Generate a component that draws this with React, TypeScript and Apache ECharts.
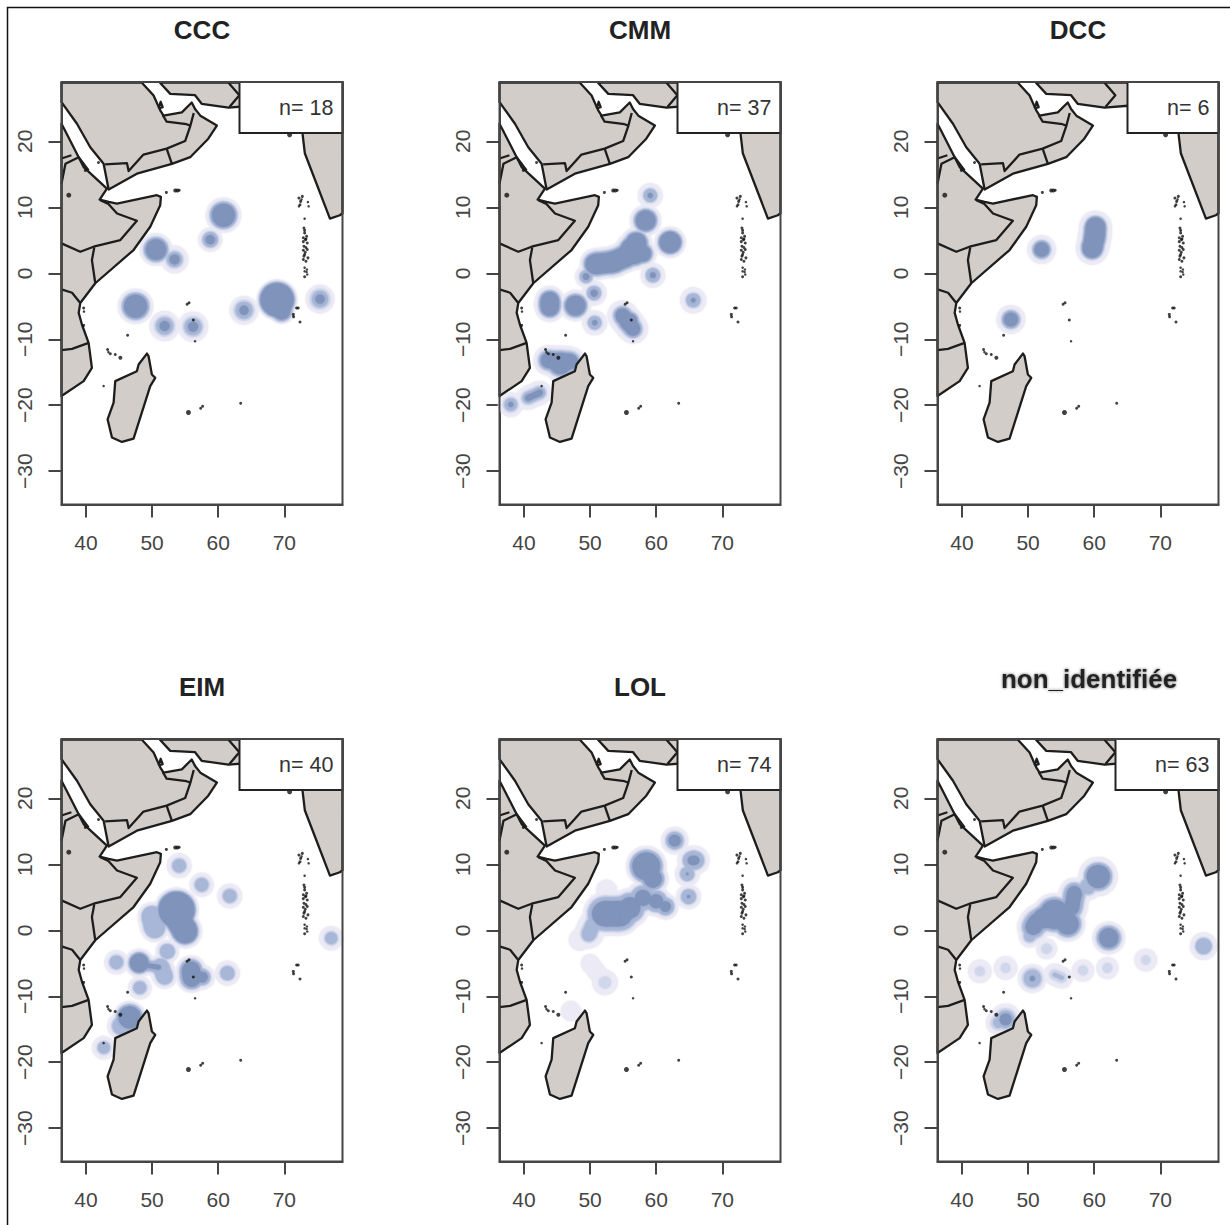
import React, { useEffect, useRef } from "react";
import * as echarts from "echarts";

const panelTitles = ["CCC", "CMM", "DCC", "EIM", "LOL", "non_identifiée"];
const panelCounts = ["n= 18", "n= 37", "n= 6", "n= 40", "n= 74", "n= 63"];
const lonTicks = [40, 50, 60, 70];
const latTicks = [-30, -20, -10, 0, 10, 20];
const lonRange = [36.3, 78.8];
const latRange = [-35.05, 29];

const arabia = [[36.3, 28.9], [48.46, 28.9], [50.23, 26.95], [51.23, 24.7], [51.74, 23.9], [54.5, 24.4], [56, 25.9], [56.5, 24.9], [57.3, 23.9], [59.8, 22.4], [58.5, 20.4], [55.77, 17.6], [53, 16.6], [47.7, 15.1], [43.43, 12.7], [42.67, 16.6], [40.65, 19.1], [38.64, 22.67], [36.3, 25.94]];
const iran = [[51.2, 28.9], [52.75, 27.2], [56.5, 27], [57.5, 25.7], [61.56, 25.1], [65.1, 25.4], [68, 24], [72.6, 23], [78.8, 23], [78.8, 28.9]];
const india = [[72.6, 23], [72.75, 21.2], [73.1, 18.2], [76.9, 8.3], [78.4, 8.8], [78.8, 9.1], [78.8, 23]];
const africa = [[36.3, 22.67], [36.83, 21.66], [39.65, 16.1], [43.17, 12.85], [42.07, 11.18], [43.43, 10.83], [44.68, 10.58], [50.73, 11.84], [51.33, 11.59], [51.23, 10.33], [49.72, 7.05], [47.2, 3.53], [41.41, -1.51], [39.14, -4.5], [38.9, -6], [39.4, -7.8], [40.4, -10.55], [40.9, -14.33], [39.65, -16.35], [36.3, -18.6]];
const madagascar = [[49.22, -12.17], [47.96, -13.83], [47.7, -14.84], [44.43, -16.35], [44.18, -19.6], [43.27, -22.14], [43.93, -24.9], [45.44, -25.57], [47.2, -25.06], [49.72, -17.1], [50.48, -15.84], [49.97, -15.34], [49.47, -12.57]];
const landPolygons = [arabia, iran, india, africa, madagascar];

const borderLines = [
  [[42.9, 16.5], [46.2, 16.7], [46.45, 15.5], [48.7, 18], [52.2, 18.9], [55, 20.05], [55.8, 22.4], [56.3, 24.3]],
  [[51.6, 24], [52.2, 23], [55.2, 22.6], [55.8, 22.4]],
  [[52.2, 18.9], [53, 16.6]],
  [[61.56, 28.9], [63.2, 27], [61.7, 25.2]],
  [[36.3, 13.6], [36.9, 16.6], [38.9, 17.6], [40.4, 15.6]],
  [[36.3, 17.4], [37.8, 17.9]],
  [[42.17, 11.08], [43.4, 10.5], [44.7, 9.07], [47.7, 7.96], [45.2, 5.04], [41.16, 4.03], [39.14, 3.27], [36.3, 4.53]],
  [[41.26, 3.93], [40.9, 2], [41.41, -1.51]],
  [[36.3, -2.45], [37.9, -2.95], [39.14, -4.5]],
  [[36.3, -11.66], [37.9, -11.46], [40.4, -10.55]],
  [[51, 25], [51.3, 26], [51.6, 25.2], [51, 25]],
];

// lon, lat, dot size
const islands = [
  [72.21, 11.4, 3], [72.72, 11.66, 3], [72.47, 10.9, 3], [73.57, 10.8, 2.5], [73.68, 10.15, 2.5], [72.21, 10.15, 2.5], [72.37, 10.4, 3], [72.6, 11.2, 2.5], [73.07, 8.28, 2.5],
  [72.97, 6.87, 3], [73.07, 6.5, 3], [73.07, 6.1, 3], [73.37, 5.6, 3], [72.87, 5.4, 3], [73.2, 5.1, 3], [72.87, 4.8, 3], [73.47, 4.6, 3], [72.97, 4.1, 3], [73.27, 3.9, 3], [73.47, 3.6, 3], [72.87, 3.5, 3], [73.07, 2.84, 3], [73.57, 2.34, 3], [73.27, 1.83, 3],
  [72.87, 2.1, 3], [72.97, 2.6, 3], [73.17, 3.2, 3], [73.27, 5.2, 3], [73.07, 0.85, 2.5], [73.42, 0.57, 2.5], [73.07, 0.3, 2.5], [73.37, 0.2, 2.5], [73.07, -0.53, 3], [73.47, -0.18, 2.5],
  [71.86, -5.27, 3], [72.1, -5.27, 3], [71.36, -6.23, 3], [71.4, -6.6, 3], [72.37, -7.39, 3],
  [55.59, -4.46, 3], [55.3, -4.7, 3], [56.24, -7.08, 3], [56.5, -10.3, 2.5],
  [53.5, 12.56, 4], [53.83, 12.56, 4], [54.1, 12.6, 3], [52.16, 12.26, 3],
  [46.3, -9.4, 3], [43.27, -11.56, 3], [43.4, -11.95, 2.5], [43.68, -12.2, 3], [44.43, -12.3, 3], [45.2, -12.8, 4], [42.67, -17.1, 2.5],
  [55.5, -21.1, 5], [57.35, -20.45, 3], [57.65, -20.15, 3], [63.4, -19.7, 3],
  [39.65, -5.26, 3], [39.7, -5.8, 2.5], [39.65, -7.9, 3], [37.4, 11.84, 5], [70.8, 21, 5], [41.9, 16.8, 3], [39.9, 15.6, 3],
];

// each blob: radii in degrees of the pale, light, mid and dark contours, then the lon/lat path they follow
const cccBlobs = [
  [[2.7, 2.2, 2.05, 1.75], [60.8, 8.8]], [[1.85, 1.3, 1.15, 0.7], [58.8, 5.1]], [[2.5, 2, 1.85, 1.55], [50.6, 3.6]], [[2.1, 1.4, 1.15, 0.75], [53.4, 2.1]],
  [[2.7, 2.2, 2.05, 1.75], [47.5, -5]], [[2.3, 1.6, 1.3, 0.75], [51.9, -8]], [[2.3, 1.6, 1.3, 0.75], [56.2, -8.1]], [[2.2, 1.6, 1.3, 0.7], [63.9, -5.6]],
  [[3.1, 2.8, 2.7, 2.5], [68.9, -4]], [[2, 1.7, 1.55, 1.3], [69.6, -5.7]], [[2.2, 1.6, 1.25, 0.7], [75.4, -3.9]],
];
const cmmBlobs = [
  [[1.9, 1.15, 1, 0.4], [59.1, 11.8]], [[2.4, 1.9, 1.75, 1.5], [58.4, 8]], [[2.4, 1.95, 1.8, 1.6], [62.1, 4.7]], [[2, 1.2, 1.05, 0.35], [65.6, -4.1]], [[1.9, 1.2, 1.05, 0.45], [59.5, -0.3]],
  [[2.4, 1.95, 1.75, 1.5], [50.8, 1.4, 53.5, 1.7, 55.5, 2.6]], [[2.9, 2.4, 2.25, 2], [56.6, 3.4]], [[2.4, 1.9, 1.75, 1.5], [57, 4.6]], [[2.1, 1.6, 1.45, 1.2], [58, 3]],
  [[1.7, 1.1, 0.95, 0.5], [49.4, -0.5]], [[1.9, 1.2, 1.05, 0.55], [50.6, -3]], [[1.9, 1.15, 1, 0.4], [50.7, -7.5]], [[2.4, 1.9, 1.75, 1.5], [47.8, -4.9]],
  [[2.3, 1.75, 1.6, 1.35], [43.9, -4.2, 43.9, -5.1]],
  [[2.3, 1.55, 1.35, 1.05], [54.9, -6.4, 55.7, -7.5, 56.5, -8.4]], [[2, 1.5, 1.3, 1.1], [56, -7.2]],
  [[2.3, 1.7, 1.45, 1.15], [43.7, -13.2, 47, -13.4]], [[2.7, 2.1, 1.9, 1.6], [45.5, -13.7]],
  [[1.9, 1.2, 0.95, 0.4], [38, -19.9]], [[1.8, 1.1, 0.85, 0.45], [40.6, -18.9, 42.4, -18.1]], [[1.3, 0, 0, 0], [38, -19.9, 40.6, -18.9]],
];
const dccBlobs = [
  [[2.5, 1.8, 1.65, 1.45], [60.2, 7, 60.1, 5.6, 59.7, 3.8]],
  [[2.2, 1.5, 1.35, 1.1], [52.05, 3.6]], [[2.2, 1.5, 1.35, 1.05], [47.4, -7]],
];
const eimBlobs = [
  [[1.9, 1.2, 1, 0], [54.1, 9.8]], [[1.85, 1.2, 1, 0], [57.5, 6.9]], [[1.9, 1.2, 1, 0], [61.75, 5.2]], [[1.85, 1.1, 0.9, 0], [77.1, -1.2]],
  [[3.4, 3, 2.9, 2.7], [53.7, 3.1]], [[2.6, 2.15, 2, 1.8], [54, 1.6, 55, -0.15]],
  [[2.2, 1.7, 1.55, 0], [50, 2.1, 50.4, 0.4]],
  [[1.8, 1.25, 1.1, 0], [52.3, -3.2]], [[1.85, 1.2, 1, 0], [44.6, -4.85]], [[2.2, 1.75, 1.6, 1.4], [48.05, -4.95]], [[1.4, 0.9, 0.75, 0.35], [49, -5.3, 51, -5.6]],
  [[1.9, 1.35, 1.2, 0], [51.3, -5.5, 51.9, -7]], [[1.8, 1.15, 0.95, 0], [48.15, -8.7]],
  [[2.3, 1.85, 1.7, 1.35], [55.9, -6.1, 56, -7.2]], [[1.9, 1.35, 1.2, 0.8], [57.6, -7.1]], [[1.9, 1.2, 1.05, 0], [61.4, -6.5]],
  [[2.5, 2.1, 2, 1.7], [46.6, -13.2]], [[2.1, 1.5, 1.3, 0], [45.3, -14.5]], [[1.8, 1.1, 0.9, 0], [42.7, -17.8]],
];
const lolBlobs = [
  [[2.1, 1.5, 1.3, 0.9], [62.8, 13.6]], [[2.2, 1.5, 1.35, 0.65], [65.4, 10.6, 65.9, 10.6]], [[1.9, 1.2, 1.05, 0.2], [64.7, 8.55]], [[1.9, 1.25, 1.1, 0.25], [64.9, 5.1]],
  [[3.1, 2.6, 2.45, 2.1], [58.5, 9.7]], [[2.4, 1.85, 1.7, 1.35], [59.5, 7.8]],
  [[3.3, 2.75, 2.5, 1.9], [52.2, 2.5, 54.5, 2.5]], [[3, 2.4, 2.2, 1.6], [56, 3.4]], [[2.6, 2.05, 1.85, 1.2], [58, 4.9]], [[2.3, 1.75, 1.6, 1.05], [60, 4.4]], [[2, 1.45, 1.3, 0.8], [61.4, 3.6]],
  [[2.2, 1.3, 1.05, 0], [50.4, 0.8, 49.8, -0.6]], [[1.7, 0, 0, 0], [48.45, -1.4]], [[1.6, 0, 0, 0], [52.5, 6.1]],
  [[1.4, 0, 0, 0], [50, -5, 51.2, -6.5]], [[1.95, 0.95, 0, 0], [52.25, -7.9]], [[1.55, 0, 0, 0], [47.1, -12.25]],
];
const nonIdBlobs = [
  [[3, 2.25, 2.1, 1.75], [60.6, 8.15]], [[2.1, 1.4, 1.15, 0], [59, 6.6]],
  [[2.4, 1.75, 1.55, 1.1], [57, 5.6, 56.6, 3.4]], [[3.3, 2.75, 2.55, 2.2], [54, 2.4]], [[2.6, 2.05, 1.85, 1.5], [52.3, 1.8]], [[2.5, 1.9, 1.65, 1.2], [51.4, 1.4, 50.8, 0.5]], [[2.7, 2.2, 2, 1.65], [56, 1]],
  [[1.7, 1.1, 0.85, 0], [50.25, -0.9]], [[2.5, 2, 1.8, 1.45], [62.2, -1.15]], [[2.1, 1.35, 1.2, 0], [76.55, -2.4]],
  [[1.6, 0.8, 0, 0], [52.8, -2.8]], [[1.8, 0.75, 0, 0], [42.7, -6.2]], [[1.8, 0.75, 0, 0], [46.6, -5.7]],
  [[2.2, 1.6, 1.3, 0.4], [50.65, -7.3]], [[1.65, 0.8, 0.3, 0], [54, -6.7, 55.1, -7.2]],
  [[1.7, 0.75, 0, 0], [58.3, -6.1]], [[1.7, 0.75, 0, 0], [62, -5.7]], [[1.75, 0.7, 0, 0], [67.8, -4.5]],
  [[2.4, 1.7, 1.35, 0.9], [46.6, -13.5]], [[1.9, 1.2, 0.8, 0], [45.5, -14]],
];
const panelBlobs = [cccBlobs, cmmBlobs, dccBlobs, eimBlobs, lolBlobs, nonIdBlobs];

const contourColors = ["#ebeaf5", "#d0d7ea", "#a8b7d7", "#7f93bb"];
const LAND = "#d3cdc9";
const INK = "#1d1d1d";
const AXIS = "#454545";
const colLeft = [61.5, 499.5, 937.5];
const rowTop = [82, 739];
const boxInset = [178, 178, 190, 178, 178, 178];
const plotW = 281;
const plotH = 422.5;
const fontFamily = "Liberation Sans, Arial, sans-serif";

export default function App() {
  const ref = useRef<HTMLDivElement>(null);
  useEffect(() => {
    const chart = echarts.init(ref.current!, undefined, { renderer: "svg" });
    const grid: any[] = [], xAxis: any[] = [], yAxis: any[] = [], series: any[] = [], graphic: any[] = [];
    const labelStyle = { color: AXIS, fontSize: 21, fontFamily };
    const line = { show: true, onZero: false, lineStyle: { color: AXIS, width: 2 } };
    panelTitles.forEach((title, i) => {
      const left = colLeft[i % 3];
      const top = rowTop[Math.floor(i / 3)];
      grid.push({ left, top, width: plotW, height: plotH });
      xAxis.push({
        type: "value", gridIndex: i, position: "bottom", min: lonRange[0], max: lonRange[1], splitLine: { show: false }, axisLine: line,
        axisTick: { show: true, length: 13, lineStyle: { color: AXIS, width: 2 }, customValues: lonTicks },
        axisLabel: { ...labelStyle, margin: 27, customValues: lonTicks },
      });
      yAxis.push({
        type: "value", gridIndex: i, position: "left", min: latRange[0], max: latRange[1], splitLine: { show: false }, axisLine: line,
        axisTick: { show: true, length: 13, lineStyle: { color: AXIS, width: 2 }, customValues: latTicks },
        axisLabel: { ...labelStyle, margin: 27, rotate: 90, customValues: latTicks, formatter: (v: number) => (v < 0 ? "\u2212" + Math.abs(v) : String(v)) },
      });
      const rows: { r: number; level: number; path: number[][] }[] = [];
      contourColors.forEach((_, level) => panelBlobs[i].forEach((b) => {
        const r = b[0][level];
        if (r <= 0) return;
        const path: number[][] = [];
        for (let k = 0; k < b[1].length; k += 2) path.push([b[1][k], b[1][k + 1]]);
        rows.push({ r, level, path });
      }));
      series.push({
        type: "custom", xAxisIndex: i, yAxisIndex: i, z: 2, silent: true, data: rows.map((b) => b.path[0]),
        renderItem: (p: any, api: any) => {
          const b = rows[p.dataIndex];
          const radius = api.size([b.r, 0])[0];
          const color = contourColors[b.level];
          const style = { fill: color, shadowBlur: 2.5, shadowColor: color };
          const pts = b.path.map((q) => api.coord(q));
          const children: any[] = pts.map((c) => ({ type: "circle", shape: { cx: c[0], cy: c[1], r: radius }, style }));
          for (let k = 0; k + 1 < pts.length; k++) {
            const [a, d] = [pts[k], pts[k + 1]];
            const len = Math.hypot(d[0] - a[0], d[1] - a[1]) || 1;
            const nx = (-(d[1] - a[1]) / len) * radius;
            const ny = ((d[0] - a[0]) / len) * radius;
            children.push({
              type: "polygon",
              shape: { points: [[a[0] + nx, a[1] + ny], [d[0] + nx, d[1] + ny], [d[0] - nx, d[1] - ny], [a[0] - nx, a[1] - ny]] },
              style,
            });
          }
          return { type: "group", children };
        },
      });
      series.push({
        type: "custom", xAxisIndex: i, yAxisIndex: i, z: 3, silent: true, data: landPolygons.map((p) => p[0]),
        renderItem: (p: any, api: any) => ({
          type: "polygon",
          shape: { points: landPolygons[p.dataIndex].map((q) => api.coord(q)) },
          style: { fill: LAND, stroke: INK, lineWidth: 2.3, lineJoin: "round" },
        }),
      });
      series.push({
        type: "custom", xAxisIndex: i, yAxisIndex: i, z: 4, silent: true, data: borderLines.map((p) => p[0]),
        renderItem: (p: any, api: any) => ({
          type: "polyline",
          shape: { points: borderLines[p.dataIndex].map((q) => api.coord(q)) },
          style: { fill: "none", stroke: INK, lineWidth: 2.3, lineJoin: "round" },
        }),
      });
      series.push({
        type: "scatter", xAxisIndex: i, yAxisIndex: i, z: 5, silent: true, data: islands,
        symbolSize: (v: number[]) => v[2], itemStyle: { color: "#111" },
      });
      graphic.push({ type: "rect", z: 100, shape: { x: left + boxInset[i], y: top, width: plotW - boxInset[i], height: 51 }, style: { fill: "#fff", stroke: "#222", lineWidth: 2 } });
      graphic.push({ type: "rect", z: 101, shape: { x: left, y: top, width: plotW, height: plotH }, style: { fill: "none", stroke: AXIS, lineWidth: 2 } });
      graphic.push({ type: "text", z: 102, x: left + plotW - 9, y: top + 26, style: { text: panelCounts[i], fill: "#333", font: "21.5px " + fontFamily, textAlign: "right", textVerticalAlign: "middle" } });
      const isLast = i === 5;
      graphic.push({
        type: "text", z: 102, x: isLast ? 1089 : left + 140.5, y: isLast ? 679 : top - 52,
        style: {
          text: title, fill: "#222", font: "bold 26px " + fontFamily, textAlign: "center", textVerticalAlign: "middle",
          ...(isLast ? { textShadowBlur: 3, textShadowColor: "#666" } : {}),
        },
      });
    });
    graphic.push({ type: "rect", z: 103, shape: { x: 7.5, y: 7.5, width: 1240, height: 1240 }, style: { fill: "none", stroke: "#111", lineWidth: 1.5 } });
    chart.setOption({ animation: false, backgroundColor: "#fff", grid, xAxis, yAxis, series, graphic });
    return () => chart.dispose();
  }, []);
  return <div ref={ref} style={{ position: "absolute", left: 0, top: 0, width: 1230, height: 1225 }} />;
}
